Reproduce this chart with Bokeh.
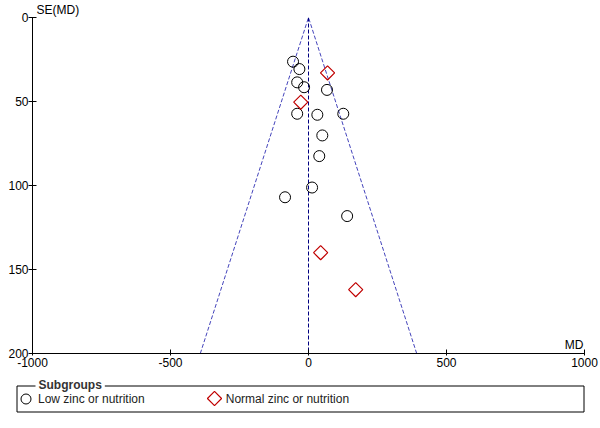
import numpy as np
from bokeh.plotting import figure
from bokeh.layouts import column
from bokeh.models import Range1d, FixedTicker, Label, Legend, LegendItem, BoxAnnotation
from bokeh.embed import file_html
from bokeh.resources import INLINE

# Data
low_md = [-56, -33, -41, -16, 67, -41, 32, 126, 50, 39, 13, -85, 140]
low_se = [26.3, 30.7, 38.6, 41.5, 43.1, 57.3, 57.9, 57.3, 70.2, 82.5, 101.2, 107, 118.2]
norm_md = [69, -28, 44, 171]
norm_se = [33, 50.4, 140, 162]
pooled_md = 0
se_max = 200
x_ticks = [-1000, -500, 0, 500, 1000]
y_ticks = [0, 50, 100, 150, 200]
group_labels = ["Low zinc or nutrition", "Normal zinc or nutrition"]
legend_title = "Subgroups"

FONT = "Liberation Sans"
LOW_STYLE = dict(marker="circle", size=11, fill_color=None, line_color="black", line_width=1)
NORM_STYLE = dict(marker="square", angle=np.pi / 4, size=10, fill_color=None,
                  line_color="#C00000", line_width=1.2)

p = figure(width=600, height=372,
           x_range=Range1d(-1000, 1000), y_range=Range1d(200, 0),
           output_backend="svg", toolbar_location=None,
           min_border_left=32, min_border_right=16,
           min_border_top=16, min_border_bottom=19)
p.frame_align = False
p.outline_line_color = None
p.xgrid.visible = False
p.ygrid.visible = False
p.background_fill_color = "white"

p.title.text = "SE(MD)"
p.title.align = "left"
p.title.offset = 4
p.title.standoff = 1
p.title.text_font = FONT
p.title.text_font_size = "12px"
p.title.text_font_style = "normal"
p.title.text_color = "black"

for ax in (p.xaxis, p.yaxis):
    ax.axis_line_color = "black"
    ax.major_tick_line_color = "black"
    ax.minor_tick_line_color = None
    ax.major_label_text_font = FONT
    ax.major_label_text_font_size = "12px"
    ax.major_label_text_color = "black"

p.xaxis.ticker = FixedTicker(ticks=x_ticks, minor_ticks=[])
p.xaxis.major_label_overrides = {t: str(t) for t in x_ticks}
p.xaxis.major_tick_in = 4
p.xaxis.major_tick_out = 2
p.xaxis.major_label_standoff = 2

p.yaxis.ticker = FixedTicker(ticks=y_ticks, minor_ticks=[])
p.yaxis.major_label_overrides = {t: str(t) for t in y_ticks}
p.yaxis.major_tick_in = 4
p.yaxis.major_tick_out = 4
p.yaxis.major_label_standoff = 0

# Funnel (95% pseudo confidence limits) and pooled line
p.line([pooled_md - 1.96 * se_max, pooled_md, pooled_md + 1.96 * se_max],
       [se_max, 0, se_max], line_color="#4444BB", line_dash="4 2", line_width=1)
p.line([pooled_md, pooled_md], [0, se_max], line_color="#000080",
       line_dash="4 2", line_width=1)

p.scatter(low_md, low_se, **LOW_STYLE)
p.scatter(norm_md, norm_se, **NORM_STYLE)

p.add_layout(Label(x=1000, y=200, text="MD", text_font=FONT, text_font_size="12px",
                   text_align="right", text_baseline="bottom", x_offset=-1,
                   y_offset=2, text_color="black"))

# Legend strip (a second, axis-less figure laid out in pixel units)
lg = figure(width=600, height=56, x_range=Range1d(0, 600), y_range=Range1d(56, 0),
            output_backend="svg", toolbar_location=None,
            x_axis_type=None, y_axis_type=None,
            min_border_left=0, min_border_right=0, min_border_top=0, min_border_bottom=0)
lg.frame_align = False
lg.outline_line_color = None
lg.xgrid.visible = False
lg.ygrid.visible = False

nan = [float("nan")]
d_low = lg.scatter(nan, nan, **LOW_STYLE)
d_norm = lg.scatter(nan, nan, marker="square", size=10, fill_color=None, line_alpha=0)

lg.add_layout(BoxAnnotation(left=16.5, right=583.5, top=13.5, bottom=39.5,
                            fill_alpha=0, line_color="black", line_alpha=1,
                            line_width=1))
lg.add_layout(Label(x=35, y=12.5, text=legend_title, text_font=FONT,
                    text_font_size="12px", text_font_style="bold",
                    text_baseline="middle", text_color="#333333",
                    background_fill_color="white", padding=3))

legend = Legend(items=[LegendItem(label=group_labels[0], renderers=[d_low]),
                       LegendItem(label=group_labels[1], renderers=[d_norm])],
                orientation="horizontal", location=(13, 17),
                glyph_width=25, glyph_height=25, label_height=25,
                label_standoff=0, spacing=56, padding=0, margin=0,
                border_line_color=None, background_fill_alpha=0,
                label_text_font=FONT, label_text_font_size="12px",
                label_text_color="#222222")
lg.add_layout(legend)

# rotated-square key for the second legend entry (legend keys ignore marker angle)
key_x, key_y = 214, 26
lg.scatter([key_x], [key_y], **NORM_STYLE)

layout = column(p, lg, spacing=0)
open("out.html", "w").write(file_html(layout, INLINE))
